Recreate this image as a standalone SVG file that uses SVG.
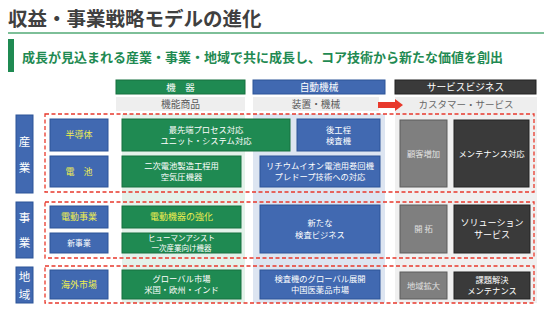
<svg xmlns="http://www.w3.org/2000/svg" width="544" height="323" viewBox="0 0 544 323">
<defs>
<style>
text{font-family:"Noto Sans CJK JP","Noto Sans",sans-serif;text-anchor:middle}
.g{fill:#1f8a52;stroke:#16703f;stroke-width:1}
.b{fill:#4169b1;stroke:#2d5598;stroke-width:1}
.gr{fill:#7f7f7f;stroke:#5c5c5c;stroke-width:1}
.dk{fill:#3a3a3a;stroke:#222;stroke-width:1}
.w{fill:#fff;font-size:8.3px}
.y{fill:#eeee50;font-size:9px}
.lg{fill:#e0e0e0;font-size:8.3px}
.dash{fill:none;stroke:#e8392c;stroke-width:1.3;stroke-dasharray:4 2.5}
.side{fill:#fff;font-size:11.5px}
</style>
</defs>
<rect width="544" height="323" fill="#fff"/>
<g id="title">
<text x="8" y="26" style="text-anchor:start;font-size:19.5px;font-weight:bold;fill:#404040">収益・事業戦略モデルの進化</text>
<rect x="8" y="32" width="536" height="2" fill="#7dbf98"/>
<rect x="8" y="39" width="6" height="33" fill="#1f8a52"/>
<text x="22" y="62" style="text-anchor:start;font-size:13px;font-weight:bold;fill:#1f8a52">成長が見込まれる産業・事業・地域で共に成長し、コア技術から新たな価値を創出</text>
</g>
<g id="columns">
<rect x="122" y="114" width="123" height="189" fill="#e4f2ea"/>
<rect x="253" y="114" width="132" height="189" fill="#dde5f1"/>
<rect x="395" y="97" width="142" height="206" fill="#f0f0f0"/>
</g>
<g id="headers">
<rect x="116" y="80" width="129" height="14" class="g"/>
<text x="180.5" y="90.5" style="fill:#fff;font-size:9.5px">機　器</text>
<rect x="116" y="97" width="129" height="14" fill="#eeeeee"/>
<text x="180.5" y="107.5" style="fill:#595959;font-size:9.8px">機能商品</text>
<rect x="253" y="80" width="132" height="14" class="b"/>
<text x="319" y="90.5" style="fill:#fff;font-size:9.7px">自動機械</text>
<rect x="253" y="97" width="126" height="14" fill="#eeeeee"/>
<text x="316" y="107.5" style="fill:#595959;font-size:9.7px">装置・機械</text>
<rect x="395" y="80" width="141" height="14" class="dk"/>
<text x="465.5" y="90.5" style="fill:#fff;font-size:9.7px">サービスビジネス</text>
<rect x="395" y="97" width="142" height="14" fill="#eeeeee"/>
<text x="466" y="107.5" style="fill:#666;font-size:9.5px">カスタマー・サービス</text>
<path d="M378,102 H395 V99 L403,105 L395,111 V108 H378 Z" fill="#e8392c"/>
</g>
<g id="connectors">
<rect x="45" y="114" width="489" height="78" class="dash"/>
<rect x="45" y="202" width="489" height="56" class="dash"/>
<rect x="45" y="266" width="489" height="37" class="dash"/>
</g>
<g id="sangyo">
<rect x="16" y="115" width="17" height="78" class="b"/>
<text x="24.5" y="146" class="side">産</text>
<text x="24.5" y="172" class="side">業</text>
</g>
<g id="jigyo">
<rect x="16" y="202" width="17" height="56" class="b"/>
<text x="24.5" y="222" class="side">事</text>
<text x="24.5" y="247" class="side">業</text>
</g>
<g id="chiiki">
<rect x="16" y="267" width="17" height="36" class="b"/>
<text x="24.5" y="281" class="side">地</text>
<text x="24.5" y="299" class="side">域</text>
</g>
<g id="handotai">
<rect x="50" y="119" width="58" height="32" class="b"/>
<text x="79" y="138" class="y">半導体</text>
</g>
<g id="denchi">
<rect x="50" y="156" width="58" height="31" class="b"/>
<text x="79" y="174.5" class="y">電　池</text>
</g>
<g id="saisentan">
<rect x="122" y="119" width="168" height="32" class="g"/>
<text x="206" y="132.5" class="w">最先端プロセス対応</text>
<text x="206" y="143.5" class="w">ユニット・システム対応</text>
</g>
<g id="koukotei">
<rect x="297" y="119" width="83" height="32" class="b"/>
<text x="338.5" y="132.5" class="w">後工程</text>
<text x="338.5" y="143.5" class="w">検査機</text>
</g>
<g id="niji">
<rect x="122" y="156" width="119" height="31" class="g"/>
<text x="181.5" y="169" class="w">二次電池製造工程用</text>
<text x="181.5" y="180" class="w">空気圧機器</text>
</g>
<g id="lithium">
<rect x="260" y="156" width="120" height="31" class="b"/>
<text x="320" y="169" class="w">リチウムイオン電池用巻回機</text>
<text x="320" y="180" class="w">プレドープ技術への対応</text>
</g>
<g id="kokyaku">
<rect x="400" y="120" width="47" height="67" class="gr"/>
<text x="423.5" y="156.5" class="lg">顧客増加</text>
</g>
<g id="maintenance">
<rect x="454" y="120" width="75" height="67" class="dk"/>
<text x="491.5" y="156.5" class="w">メンテナンス対応</text>
</g>
<g id="dendo">
<rect x="50" y="206" width="58" height="22" class="b"/>
<text x="79" y="220" class="y">電動事業</text>
</g>
<g id="shinjigyo">
<rect x="50" y="233" width="58" height="20" class="b"/>
<text x="79" y="246" style="fill:#fff;font-size:7.8px">新事業</text>
</g>
<g id="dendokiki">
<rect x="122" y="206" width="119" height="22" class="g"/>
<text x="181.5" y="220" class="y">電動機器の強化</text>
</g>
<g id="human">
<rect x="122" y="233" width="119" height="20" class="g"/>
<text x="181.5" y="240.8" style="fill:#fff;font-size:7.5px">ヒューマンアシスト</text>
<text x="181.5" y="250.6" style="fill:#fff;font-size:7.5px">一次産業向け機器</text>
</g>
<g id="kensa">
<rect x="260" y="205" width="120" height="48" class="b"/>
<text x="320" y="226" class="w">新たな</text>
<text x="320" y="237.5" class="w">検査ビジネス</text>
</g>
<g id="kaitaku">
<rect x="400" y="205" width="47" height="48" class="gr"/>
<text x="423.5" y="232" class="lg">開 拓</text>
</g>
<g id="solution">
<rect x="454" y="205" width="76" height="48" class="dk"/>
<text x="492" y="226" style="fill:#fff;font-size:9px">ソリューション</text>
<text x="492" y="238" style="fill:#fff;font-size:9px">サービス</text>
</g>
<g id="kaigai">
<rect x="50" y="270" width="58" height="29" class="b"/>
<text x="79" y="288" class="y">海外市場</text>
</g>
<g id="global">
<rect x="122" y="270" width="119" height="29" class="g"/>
<text x="181.5" y="282" class="w">グローバル市場</text>
<text x="181.5" y="293" class="w">米国・欧州・インド</text>
</g>
<g id="kensaglobal">
<rect x="260" y="270" width="120" height="29" class="b"/>
<text x="320" y="282" class="w">検査機のグローバル展開</text>
<text x="320" y="293" class="w">中国医薬品市場</text>
</g>
<g id="chiikikakudai">
<rect x="400" y="272" width="47" height="27" class="gr"/>
<text x="423.5" y="288.5" class="lg">地域拡大</text>
</g>
<g id="kadai">
<rect x="454" y="272" width="76" height="27" class="dk"/>
<text x="492" y="283" class="w">課題解決</text>
<text x="492" y="294" class="w">メンテナンス</text>
</g>
</svg>
